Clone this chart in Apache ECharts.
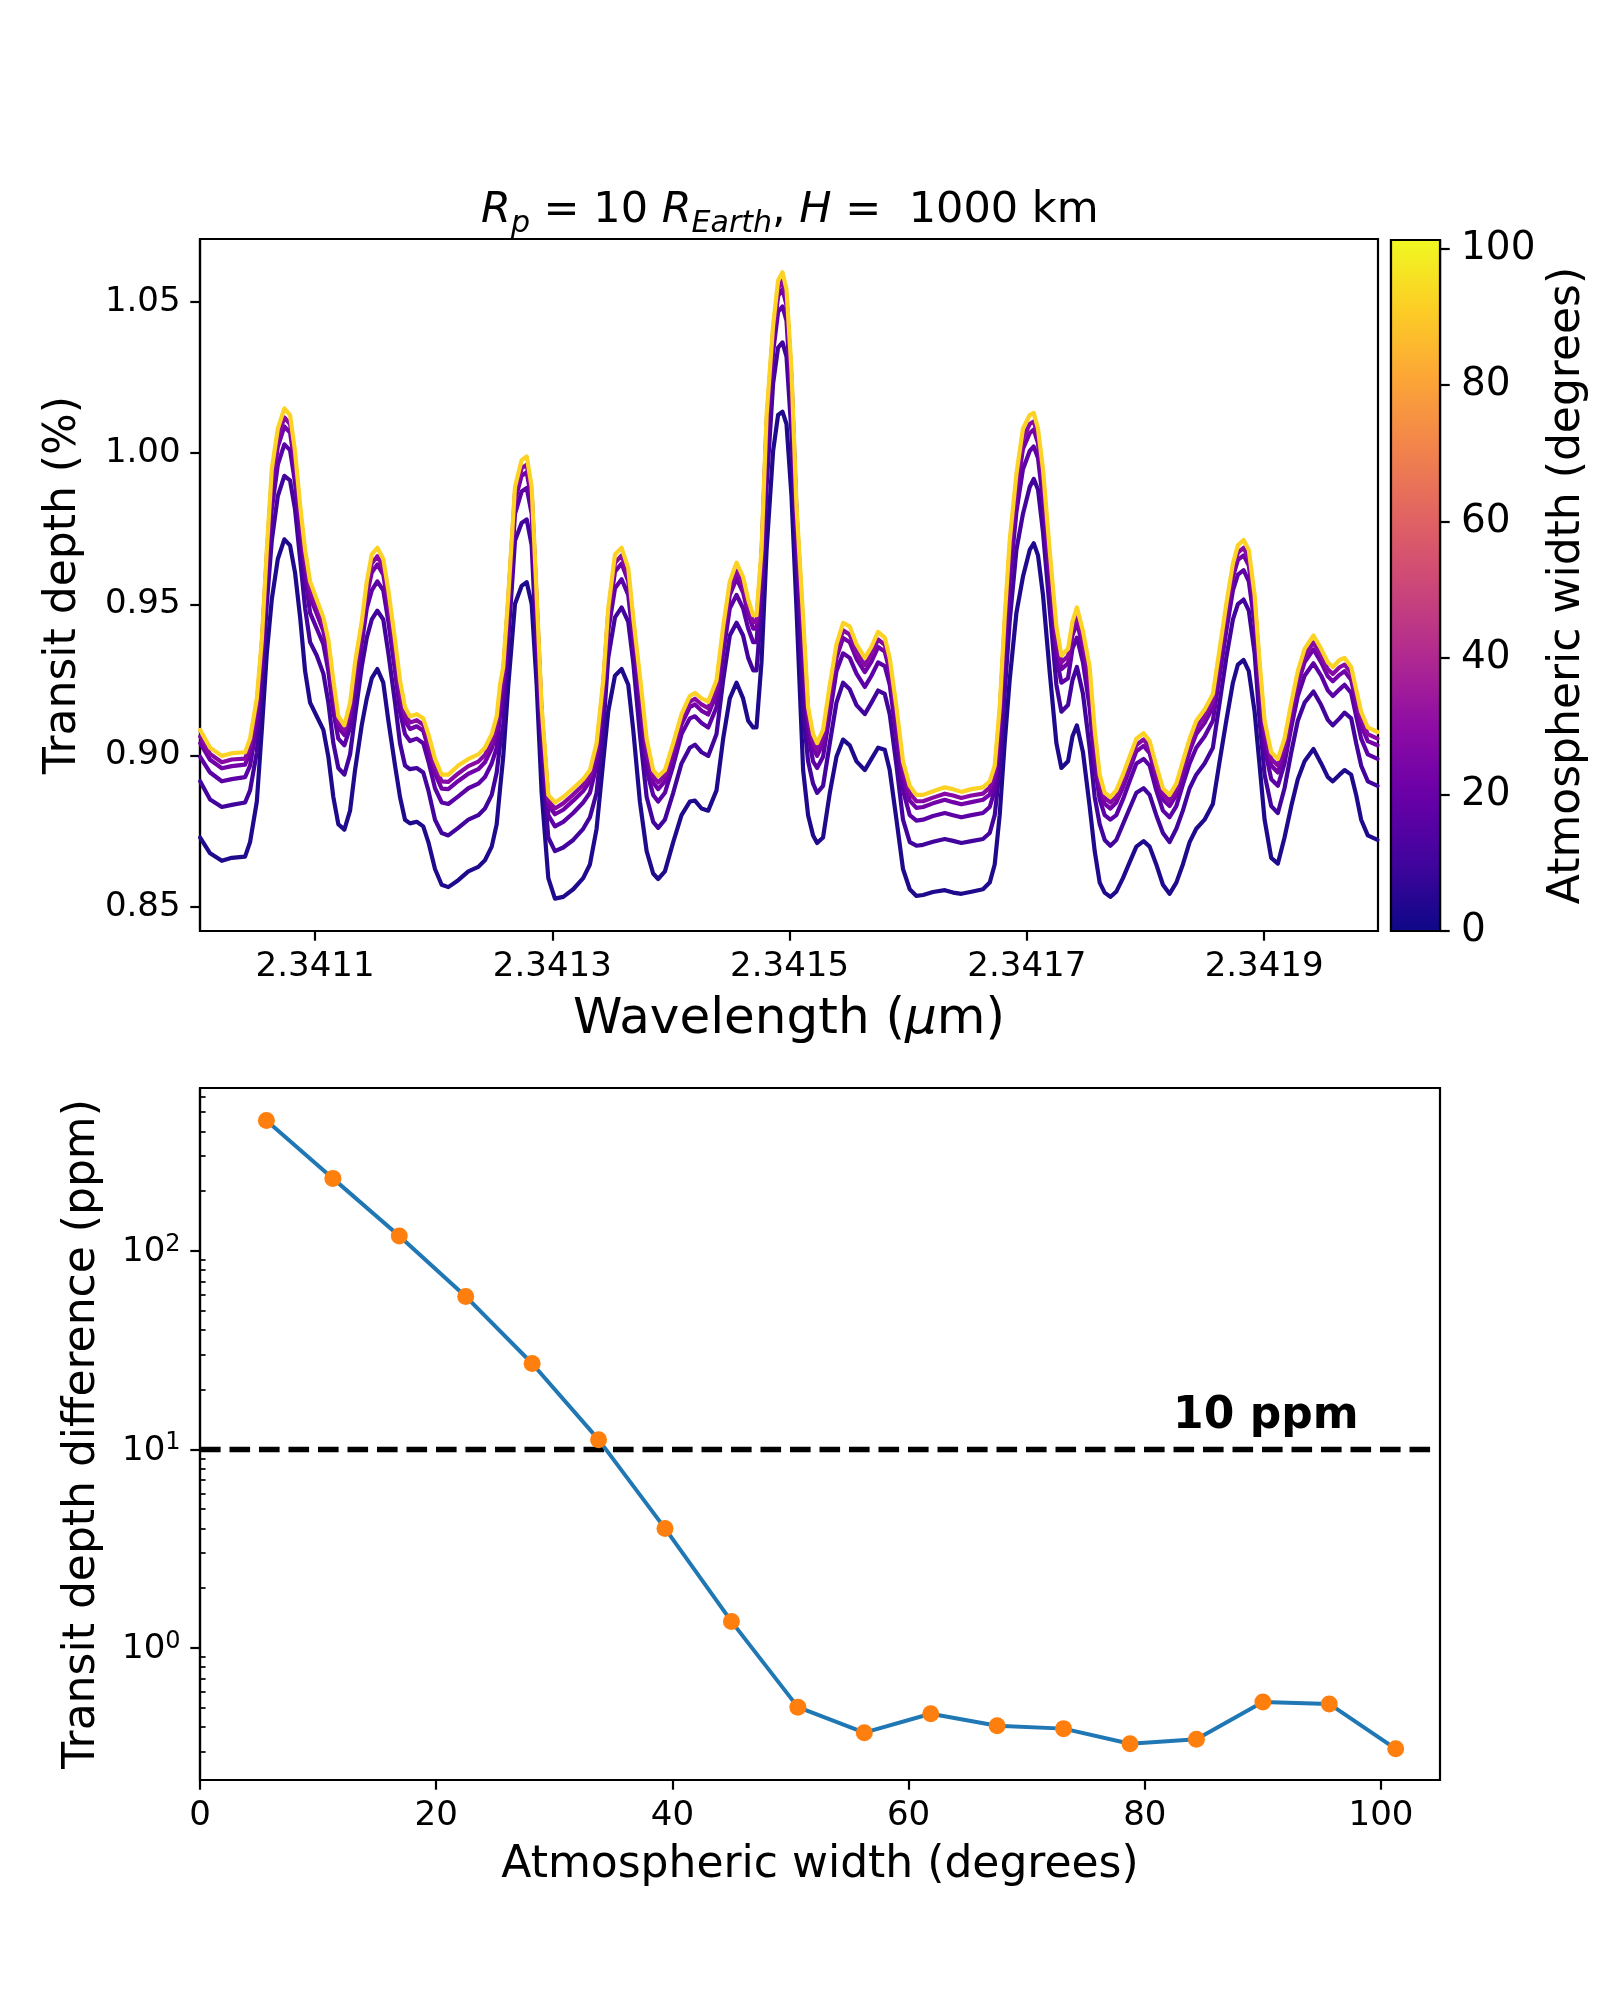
<!DOCTYPE html>
<html>
<head>
<meta charset="utf-8">
<script src="https://cdn.jsdelivr.net/npm/echarts@6.0.0/dist/echarts.min.js"></script>
<style>html,body{margin:0;padding:0;background:#fff}#chart{width:1600px;height:2000px}</style>
</head>
<body>
<div id="chart"></div>
<script>
// ---------------- DATA ----------------
// wavelength samples (micron)
const wavelength = [2.3410031,2.3410115,2.3410214,2.3410298,2.3410410,2.3410452,2.3410509,2.3410551,2.3410593,2.3410635,2.3410686,2.3410741,2.3410789,2.3410831,2.3410874,2.3410916,2.3410958,2.3411014,2.3411070,2.3411112,2.3411154,2.3411196,2.3411247,2.3411295,2.3411337,2.3411393,2.3411436,2.3411478,2.3411525,2.3411575,2.3411618,2.3411674,2.3411716,2.3411758,2.3411800,2.3411857,2.3411912,2.3411955,2.3412011,2.3412067,2.3412123,2.3412207,2.3412292,2.3412376,2.3412432,2.3412489,2.3412531,2.3412559,2.3412586,2.3412629,2.3412685,2.3412741,2.3412784,2.3412826,2.3412868,2.3412910,2.3412966,2.3413022,2.3413092,2.3413176,2.3413260,2.3413317,2.3413373,2.3413429,2.3413471,2.3413528,2.3413584,2.3413640,2.3413682,2.3413738,2.3413795,2.3413850,2.3413892,2.3413949,2.3414019,2.3414089,2.3414159,2.3414202,2.3414258,2.3414314,2.3414384,2.3414440,2.3414496,2.3414553,2.3414608,2.3414651,2.3414693,2.3414721,2.3414763,2.3414806,2.3414861,2.3414903,2.3414940,2.3414974,2.3415016,2.3415058,2.3415114,2.3415156,2.3415198,2.3415232,2.3415282,2.3415339,2.3415395,2.3415451,2.3415507,2.3415564,2.3415634,2.3415690,2.3415746,2.3415802,2.3415844,2.3415901,2.3415956,2.3416013,2.3416069,2.3416125,2.3416209,2.3416308,2.3416378,2.3416448,2.3416533,2.3416630,2.3416687,2.3416729,2.3416771,2.3416813,2.3416855,2.3416912,2.3416967,2.3417024,2.3417058,2.3417094,2.3417136,2.3417192,2.3417249,2.3417291,2.3417347,2.3417384,2.3417422,2.3417473,2.3417529,2.3417572,2.3417614,2.3417656,2.3417704,2.3417754,2.3417810,2.3417866,2.3417923,2.3417984,2.3418035,2.3418091,2.3418147,2.3418203,2.3418260,2.3418315,2.3418372,2.3418428,2.3418498,2.3418568,2.3418625,2.3418681,2.3418737,2.3418779,2.3418827,2.3418871,2.3418920,2.3418962,2.3419004,2.3419060,2.3419116,2.3419172,2.3419229,2.3419284,2.3419341,2.3419416,2.3419481,2.3419537,2.3419579,2.3419636,2.3419678,2.3419734,2.3419776,2.3419818,2.3419874,2.3419956];

// transit depth (%) for atmospheric width 5.625 deg
const depthW05 = [0.8729,0.8677,0.8652,0.8662,0.8666,0.8714,0.8848,0.9085,0.9338,0.9516,0.9650,0.9715,0.9695,0.9605,0.9457,0.9279,0.9175,0.9130,0.9085,0.8996,0.8863,0.8773,0.8755,0.8818,0.8952,0.9100,0.9189,0.9256,0.9286,0.9241,0.9115,0.8967,0.8863,0.8788,0.8776,0.8781,0.8766,0.8714,0.8625,0.8573,0.8565,0.8588,0.8617,0.8632,0.8654,0.8699,0.8773,0.8889,0.8996,0.9234,0.9501,0.9561,0.9573,0.9501,0.9234,0.8877,0.8595,0.8527,0.8533,0.8558,0.8595,0.8640,0.8758,0.8981,0.9145,0.9264,0.9286,0.9234,0.9085,0.8848,0.8684,0.8610,0.8592,0.8617,0.8714,0.8803,0.8848,0.8851,0.8825,0.8818,0.8885,0.9056,0.9189,0.9241,0.9189,0.9115,0.9093,0.9093,0.9308,0.9680,1.0007,1.0126,1.0137,1.0096,0.9858,0.9487,0.8952,0.8803,0.8736,0.8711,0.8729,0.8877,0.8996,0.9053,0.9034,0.8981,0.8952,0.8989,0.9026,0.9019,0.8952,0.8788,0.8625,0.8558,0.8536,0.8539,0.8549,0.8555,0.8547,0.8543,0.8550,0.8558,0.8580,0.8640,0.8803,0.9041,0.9249,0.9472,0.9591,0.9680,0.9702,0.9662,0.9531,0.9279,0.9041,0.8959,0.8981,0.9063,0.9100,0.9011,0.8833,0.8684,0.8580,0.8547,0.8533,0.8550,0.8595,0.8647,0.8699,0.8717,0.8699,0.8640,0.8573,0.8543,0.8580,0.8640,0.8714,0.8758,0.8788,0.8840,0.8981,0.9115,0.9241,0.9301,0.9316,0.9279,0.9145,0.8967,0.8788,0.8662,0.8643,0.8729,0.8833,0.8922,0.8981,0.9022,0.8974,0.8929,0.8915,0.8937,0.8952,0.8937,0.8870,0.8788,0.8736,0.8721];
// width 11.25 deg
const depthW11 = [0.8915,0.8855,0.8830,0.8837,0.8845,0.8885,0.9011,0.9234,0.9501,0.9710,0.9858,0.9925,0.9910,0.9814,0.9650,0.9487,0.9375,0.9331,0.9271,0.9175,0.9041,0.8959,0.8937,0.9004,0.9130,0.9293,0.9390,0.9450,0.9479,0.9450,0.9338,0.9175,0.9041,0.8967,0.8955,0.8959,0.8944,0.8885,0.8788,0.8744,0.8736,0.8761,0.8788,0.8803,0.8825,0.8870,0.8944,0.9036,0.9100,0.9383,0.9710,0.9769,0.9781,0.9695,0.9338,0.9011,0.8729,0.8684,0.8696,0.8721,0.8758,0.8796,0.8877,0.9085,0.9323,0.9457,0.9490,0.9442,0.9308,0.9071,0.8863,0.8781,0.8761,0.8788,0.8877,0.8974,0.9026,0.9036,0.9011,0.8999,0.9071,0.9249,0.9397,0.9439,0.9397,0.9323,0.9282,0.9282,0.9487,0.9888,1.0230,1.0349,1.0366,1.0319,1.0066,0.9650,0.9145,0.8981,0.8907,0.8877,0.8900,0.9041,0.9175,0.9241,0.9219,0.9167,0.9137,0.9175,0.9215,0.9204,0.9137,0.8967,0.8788,0.8714,0.8702,0.8705,0.8715,0.8724,0.8718,0.8711,0.8717,0.8724,0.8744,0.8803,0.8952,0.9204,0.9442,0.9680,0.9799,0.9888,0.9915,0.9880,0.9739,0.9487,0.9234,0.9145,0.9167,0.9249,0.9293,0.9204,0.9026,0.8863,0.8773,0.8721,0.8702,0.8721,0.8773,0.8825,0.8877,0.8892,0.8870,0.8803,0.8744,0.8714,0.8758,0.8818,0.8892,0.8937,0.8974,0.9026,0.9175,0.9323,0.9450,0.9501,0.9516,0.9479,0.9338,0.9115,0.8937,0.8833,0.8810,0.8892,0.9011,0.9115,0.9175,0.9212,0.9167,0.9118,0.9100,0.9123,0.9142,0.9123,0.9041,0.8967,0.8915,0.8900];
// width 16.875 deg
const depthW17 = [0.8996,0.8944,0.8915,0.8922,0.8929,0.8967,0.9100,0.9308,0.9591,0.9814,0.9962,1.0029,1.0010,0.9903,0.9739,0.9591,0.9472,0.9420,0.9368,0.9279,0.9145,0.9056,0.9034,0.9093,0.9219,0.9368,0.9487,0.9546,0.9576,0.9546,0.9442,0.9279,0.9145,0.9071,0.9048,0.9056,0.9041,0.8981,0.8892,0.8845,0.8840,0.8865,0.8892,0.8907,0.8929,0.8974,0.9026,0.9133,0.9204,0.9457,0.9799,0.9873,0.9885,0.9799,0.9442,0.9085,0.8803,0.8766,0.8781,0.8810,0.8845,0.8877,0.8967,0.9175,0.9412,0.9553,0.9583,0.9531,0.9383,0.9175,0.8952,0.8870,0.8848,0.8877,0.8967,0.9071,0.9123,0.9130,0.9108,0.9093,0.9160,0.9338,0.9487,0.9531,0.9487,0.9420,0.9375,0.9375,0.9583,1.0022,1.0334,1.0467,1.0485,1.0438,1.0170,0.9739,0.9308,0.9071,0.8981,0.8959,0.8996,0.9137,0.9279,0.9338,0.9323,0.9271,0.9227,0.9264,0.9308,0.9296,0.9234,0.9063,0.8885,0.8803,0.8785,0.8788,0.8800,0.8810,0.8803,0.8796,0.8803,0.8810,0.8830,0.8885,0.9056,0.9331,0.9576,0.9806,0.9947,1.0007,1.0022,0.9984,0.9843,0.9576,0.9323,0.9241,0.9256,0.9353,0.9390,0.9308,0.9160,0.8967,0.8855,0.8803,0.8788,0.8803,0.8855,0.8915,0.8974,0.8989,0.8967,0.8885,0.8818,0.8796,0.8833,0.8904,0.8974,0.9026,0.9063,0.9115,0.9264,0.9412,0.9546,0.9598,0.9613,0.9576,0.9435,0.9212,0.9026,0.8922,0.8900,0.8974,0.9093,0.9197,0.9264,0.9305,0.9264,0.9216,0.9197,0.9219,0.9234,0.9207,0.9130,0.9056,0.9004,0.8989];
// width 22.5 deg
const depthW22 = [0.9041,0.8986,0.8958,0.8965,0.8970,0.9011,0.9145,0.9345,0.9635,0.9880,1.0022,1.0088,1.0068,0.9955,0.9784,0.9635,0.9524,0.9469,0.9412,0.9331,0.9197,0.9093,0.9068,0.9133,0.9264,0.9405,0.9531,0.9605,0.9632,0.9598,0.9494,0.9331,0.9197,0.9115,0.9088,0.9097,0.9082,0.9026,0.8940,0.8891,0.8889,0.8916,0.8940,0.8955,0.8978,0.9023,0.9078,0.9184,0.9249,0.9494,0.9843,0.9925,0.9937,0.9843,0.9487,0.9123,0.8836,0.8806,0.8821,0.8851,0.8883,0.8915,0.9004,0.9212,0.9450,0.9608,0.9635,0.9576,0.9420,0.9219,0.9004,0.8910,0.8889,0.8915,0.9004,0.9103,0.9160,0.9169,0.9148,0.9136,0.9204,0.9383,0.9531,0.9585,0.9539,0.9469,0.9420,0.9420,0.9632,1.0074,1.0378,1.0519,1.0542,1.0490,1.0222,0.9784,0.9383,0.9115,0.9026,0.8999,0.9041,0.9186,0.9323,0.9389,0.9375,0.9320,0.9276,0.9311,0.9359,0.9344,0.9279,0.9112,0.8934,0.8851,0.8827,0.8830,0.8842,0.8854,0.8846,0.8839,0.8846,0.8854,0.8871,0.8925,0.9108,0.9395,0.9643,0.9870,1.0014,1.0066,1.0078,1.0033,0.9895,0.9628,0.9375,0.9286,0.9305,0.9397,0.9439,0.9360,0.9227,0.9026,0.8895,0.8840,0.8825,0.8845,0.8895,0.8955,0.9014,0.9032,0.9008,0.8925,0.8855,0.8833,0.8870,0.8943,0.9014,0.9071,0.9108,0.9160,0.9308,0.9457,0.9591,0.9647,0.9662,0.9628,0.9484,0.9261,0.9071,0.8967,0.8944,0.9014,0.9133,0.9237,0.9308,0.9351,0.9308,0.9262,0.9246,0.9267,0.9279,0.9250,0.9175,0.9100,0.9048,0.9034];
// width 28.125 deg
const depthW28 = [0.9063,0.9005,0.8978,0.8987,0.8990,0.9034,0.9167,0.9365,0.9658,0.9915,1.0051,1.0118,1.0096,0.9980,0.9806,0.9658,0.9549,0.9493,0.9435,0.9356,0.9222,0.9112,0.9084,0.9154,0.9286,0.9424,0.9553,0.9635,0.9659,0.9623,0.9519,0.9356,0.9222,0.9137,0.9109,0.9117,0.9102,0.9048,0.8965,0.8915,0.8913,0.8941,0.8965,0.8980,0.9002,0.9047,0.9103,0.9209,0.9271,0.9513,0.9866,0.9950,0.9962,0.9866,0.9509,0.9142,0.8854,0.8825,0.8842,0.8871,0.8903,0.8934,0.9023,0.9231,0.9469,0.9637,0.9662,0.9598,0.9439,0.9241,0.9029,0.8931,0.8911,0.8934,0.9023,0.9121,0.9178,0.9188,0.9169,0.9157,0.9227,0.9405,0.9553,0.9611,0.9564,0.9493,0.9442,0.9442,0.9656,1.0099,1.0401,1.0545,1.0570,1.0515,1.0247,0.9806,0.9420,0.9137,0.9048,0.9020,0.9063,0.9210,0.9345,0.9414,0.9400,0.9344,0.9299,0.9337,0.9384,0.9366,0.9301,0.9136,0.8958,0.8876,0.8849,0.8849,0.8861,0.8874,0.8868,0.8860,0.8868,0.8874,0.8894,0.8946,0.9133,0.9426,0.9677,0.9901,1.0048,1.0096,1.0105,1.0057,0.9921,0.9653,0.9400,0.9308,0.9329,0.9420,0.9464,0.9386,0.9261,0.9056,0.8916,0.8860,0.8845,0.8864,0.8916,0.8975,0.9035,0.9053,0.9027,0.8946,0.8874,0.8851,0.8889,0.8962,0.9035,0.9093,0.9130,0.9182,0.9331,0.9479,0.9613,0.9671,0.9687,0.9653,0.9507,0.9285,0.9093,0.8989,0.8967,0.9035,0.9154,0.9258,0.9331,0.9374,0.9331,0.9285,0.9270,0.9292,0.9301,0.9273,0.9197,0.9123,0.9071,0.9056];
// widths >= 33.75 deg (curves coincide within a pixel)
const depthWide = [0.9085,0.9026,0.8999,0.9008,0.9011,0.9056,0.9189,0.9383,0.9680,0.9947,1.0081,1.0148,1.0126,1.0007,0.9828,0.9680,0.9576,0.9516,0.9457,0.9383,0.9249,0.9130,0.9100,0.9175,0.9308,0.9442,0.9576,0.9665,0.9687,0.9650,0.9546,0.9383,0.9249,0.9160,0.9130,0.9137,0.9123,0.9071,0.8989,0.8937,0.8937,0.8967,0.8989,0.9004,0.9026,0.9071,0.9130,0.9234,0.9293,0.9531,0.9888,0.9977,0.9989,0.9888,0.9531,0.9160,0.8870,0.8845,0.8863,0.8892,0.8922,0.8952,0.9041,0.9249,0.9487,0.9665,0.9687,0.9620,0.9457,0.9264,0.9056,0.8952,0.8932,0.8952,0.9041,0.9137,0.9197,0.9207,0.9189,0.9178,0.9249,0.9427,0.9576,0.9638,0.9591,0.9516,0.9464,0.9464,0.9680,1.0126,1.0423,1.0571,1.0598,1.0542,1.0274,0.9828,0.9457,0.9160,0.9071,0.9041,0.9085,0.9234,0.9368,0.9439,0.9427,0.9368,0.9323,0.9360,0.9409,0.9390,0.9323,0.9160,0.8981,0.8900,0.8870,0.8870,0.8882,0.8895,0.8889,0.8880,0.8889,0.8895,0.8915,0.8967,0.9160,0.9457,0.9710,0.9932,1.0081,1.0126,1.0133,1.0081,0.9947,0.9680,0.9427,0.9331,0.9353,0.9442,0.9490,0.9412,0.9293,0.9085,0.8937,0.8877,0.8863,0.8885,0.8937,0.8996,0.9056,0.9074,0.9048,0.8967,0.8892,0.8870,0.8907,0.8981,0.9056,0.9115,0.9152,0.9204,0.9353,0.9501,0.9635,0.9695,0.9713,0.9680,0.9531,0.9308,0.9115,0.9011,0.8989,0.9056,0.9175,0.9279,0.9353,0.9397,0.9353,0.9308,0.9293,0.9316,0.9323,0.9293,0.9219,0.9145,0.9093,0.9078];

// lower panel
const atmWidths = [5.625,11.25,16.875,22.5,28.125,33.75,39.375,45,50.625,56.25,61.875,67.5,73.125,78.75,84.375,90,95.625,101.25];
const depthDiffPpm = [454,232,119,59,27.1,11.2,4.0,1.36,0.503,0.374,0.466,0.405,0.392,0.329,0.347,0.534,0.522,0.31];
const thresholdPpm = 10;
const thresholdText = '10 ppm';
const thresholdTextAt = [82.4, 14.6];

// ticks
const topXTicks = [2.3411,2.3413,2.3415,2.3417,2.3419];
const topYTicks = [0.85,0.90,0.95,1.00,1.05];
const colorbarTicks = [0,20,40,60,80,100];
const bottomXTicks = [0,20,40,60,80,100];
const bottomYMajor = [1,10,100];
const bottomYMinor = [0.3,0.4,0.5,0.6,0.7,0.8,0.9,2,3,4,5,6,7,8,9,20,30,40,50,60,70,80,90,200,300,400,500,600];
const colorbarRange = [0, 101.25];

// ---------------- STYLE ----------------
const FONT = 'DejaVu Sans';
const K = '#000';
const TICK_FS = 34;
const plasma = ['#0d0887','#41049d','#6a00a8','#8f0da4','#b12a90','#cc4778','#e16462','#f2844b','#fca636','#fcce25','#f0f921'];
const curves = [
  {name:'5.6', data: depthW05, color:'#1f0a8e'},
  {name:'11.3', data: depthW11, color:'#42049d'},
  {name:'16.9', data: depthW17, color:'#5c01a6'},
  {name:'22.5', data: depthW22, color:'#7201a8'},
  {name:'28.1', data: depthW28, color:'#880aa5'},
  {name:'>=33.8', data: depthWide, color:'#fcd225'}
];

function axisCommon(o) {
  return Object.assign({
    splitLine: {show: false},
    axisLine: {show: true, onZero: false, lineStyle: {color: K, width: 2.2}},
    nameTextStyle: {fontFamily: FONT, color: K}
  }, o);
}

const chart = echarts.init(document.getElementById('chart'), null, {renderer: 'canvas', width: 1600, height: 2000});

const supRich = {
  b: {fontFamily: FONT, fontSize: TICK_FS, color: K, lineHeight: 37, padding: [6, 0, 0, 0], verticalAlign: 'bottom'},
  s: {fontFamily: FONT, fontSize: 24, color: K, lineHeight: 27, verticalAlign: 'top'}
};

const option = {
  animation: false,
  backgroundColor: '#fff',
  graphic: [{
    type: 'text', left: 481, top: 187,
    style: {
      text: '{i|R}{s|p}{n| = 10 }{i|R}{s|Earth}{n|, }{i|H}{n| =  1000 km}',
      rich: {
        n: {fontFamily: FONT, fontSize: 43, color: K, lineHeight: 50, verticalAlign: 'top'},
        i: {fontFamily: FONT, fontSize: 43, fontStyle: 'italic', color: K, lineHeight: 50, verticalAlign: 'top'},
        s: {fontFamily: FONT, fontSize: 30, fontStyle: 'italic', color: K, lineHeight: 33, padding: [22, 0, 0, 0], verticalAlign: 'bottom'}
      }
    }
  }],
  grid: [
    {left: 200, top: 239, width: 1178, height: 692, show: true, borderColor: K, borderWidth: 2.2, containLabel: false},
    {left: 1391, top: 240, width: 49, height: 691, show: true, borderColor: K, borderWidth: 2.2, containLabel: false},
    {left: 200, top: 1088, width: 1240, height: 692, show: true, borderColor: K, borderWidth: 2.2, containLabel: false}
  ],
  xAxis: [
    axisCommon({
      type: 'value', gridIndex: 0, min: 2.341003, max: 2.341996,
      name: 'Wavelength ({mu|μ}m)', nameLocation: 'middle', nameGap: 64,
      nameTextStyle: {fontFamily: FONT, fontSize: 50, color: K, rich: {mu: {fontFamily: FONT, fontSize: 50, fontStyle: 'italic', color: K}}},
      axisTick: {show: true, length: 9.7, lineStyle: {color: K, width: 2.2}, customValues: topXTicks},
      axisLabel: {show: true, margin: 19.4, fontFamily: FONT, fontSize: TICK_FS, color: K, customValues: topXTicks, formatter: v => v.toFixed(4)}
    }),
    axisCommon({
      type: 'value', gridIndex: 1, min: 0, max: 1, show: false
    }),
    axisCommon({
      type: 'value', gridIndex: 2, min: 0, max: 105,
      name: 'Atmospheric width (degrees)', nameLocation: 'middle', nameGap: 64,
      nameTextStyle: {fontFamily: FONT, fontSize: 44, color: K},
      axisTick: {show: true, length: 9.7, lineStyle: {color: K, width: 2.2}, customValues: bottomXTicks},
      axisLabel: {show: true, margin: 19.4, fontFamily: FONT, fontSize: TICK_FS, color: K, customValues: bottomXTicks, formatter: v => String(v)}
    })
  ],
  yAxis: [
    axisCommon({
      type: 'value', gridIndex: 0, min: 0.842, max: 1.0708,
      name: 'Transit depth (%)', nameLocation: 'middle', nameGap: 114, nameRotate: 90,
      nameTextStyle: {fontFamily: FONT, fontSize: 44, color: K},
      axisTick: {show: true, length: 9.7, lineStyle: {color: K, width: 2.2}, customValues: topYTicks},
      axisLabel: {show: true, margin: 19.4, fontFamily: FONT, fontSize: TICK_FS, color: K, customValues: topYTicks, formatter: v => v.toFixed(2)}
    }),
    axisCommon({
      type: 'value', gridIndex: 1, position: 'right', min: colorbarRange[0], max: colorbarRange[1],
      name: 'Atmospheric width (degrees)', nameLocation: 'middle', nameGap: 106, nameRotate: 90,
      nameTextStyle: {fontFamily: FONT, fontSize: 44, color: K},
      axisTick: {show: true, length: 9.7, lineStyle: {color: K, width: 2.2}, customValues: colorbarTicks},
      axisLabel: {show: true, margin: 21, fontFamily: FONT, fontSize: 39, color: K, customValues: colorbarTicks, formatter: v => String(v)}
    }),
    axisCommon({
      type: 'log', logBase: 10, gridIndex: 2, min: 0.216, max: 662,
      name: 'Transit depth difference (ppm)', nameLocation: 'middle', nameGap: 95, nameRotate: 90,
      nameTextStyle: {fontFamily: FONT, fontSize: 44, color: K},
      axisTick: {show: true, length: 9.7, lineStyle: {color: K, width: 2.2}, customValues: bottomYMajor},
      axisLabel: {show: true, margin: 19.4, customValues: bottomYMajor, rich: supRich,
        formatter: v => '{b|10}{s|' + Math.round(Math.log10(v)) + '}'}
    }),
    axisCommon({
      type: 'log', logBase: 10, gridIndex: 2, min: 0.216, max: 662,
      axisLine: {show: false},
      axisTick: {show: true, length: 5.6, lineStyle: {color: K, width: 1.7}, customValues: bottomYMinor},
      axisLabel: {show: false}
    })
  ],
  series: [
    ...curves.map(c => ({
      type: 'line', name: c.name, xAxisIndex: 0, yAxisIndex: 0,
      data: wavelength.map((w, i) => [w, c.data[i]]),
      showSymbol: false, symbol: 'none', smooth: false, clip: true,
      lineStyle: {color: c.color, width: 4.2, join: 'round', cap: 'round'},
      emphasis: {disabled: true}
    })),
    {
      type: 'custom', xAxisIndex: 1, yAxisIndex: 1, clip: false,
      data: [[0, colorbarRange[0], 1, colorbarRange[1]]],
      renderItem: (params, api) => {
        const p0 = api.coord([api.value(0), api.value(1)]);
        const p1 = api.coord([api.value(2), api.value(3)]);
        return {
          type: 'rect',
          shape: {x: p0[0], y: p1[1], width: p1[0] - p0[0], height: p0[1] - p1[1]},
          style: {fill: new echarts.graphic.LinearGradient(0, 1, 0, 0, plasma.map((c, i) => ({offset: i / (plasma.length - 1), color: c}))), stroke: K, lineWidth: 2.2}
        };
      }
    },
    {
      type: 'line', xAxisIndex: 2, yAxisIndex: 2, symbol: 'none', showSymbol: false,
      data: [[0, thresholdPpm], [105, thresholdPpm]],
      lineStyle: {color: K, width: 5.5, type: [20.6, 8.9]},
      emphasis: {disabled: true}
    },
    {
      type: 'line', xAxisIndex: 2, yAxisIndex: 2,
      data: atmWidths.map((w, i) => [w, depthDiffPpm[i]]),
      lineStyle: {color: '#1f77b4', width: 4},
      symbol: 'circle', symbolSize: 17, showSymbol: true,
      itemStyle: {color: '#ff7f0e', borderWidth: 0, opacity: 1},
      emphasis: {disabled: true}
    },
    {
      type: 'scatter', xAxisIndex: 2, yAxisIndex: 2, symbolSize: 0,
      data: [thresholdTextAt],
      itemStyle: {opacity: 1},
      label: {show: true, position: [0, 0], align: 'left', verticalAlign: 'middle', formatter: thresholdText,
        fontFamily: FONT, fontWeight: 'bold', fontSize: 44, color: K, opacity: 1},
      emphasis: {disabled: true}
    }
  ]
};
chart.setOption(option);
</script>
</body>
</html>
